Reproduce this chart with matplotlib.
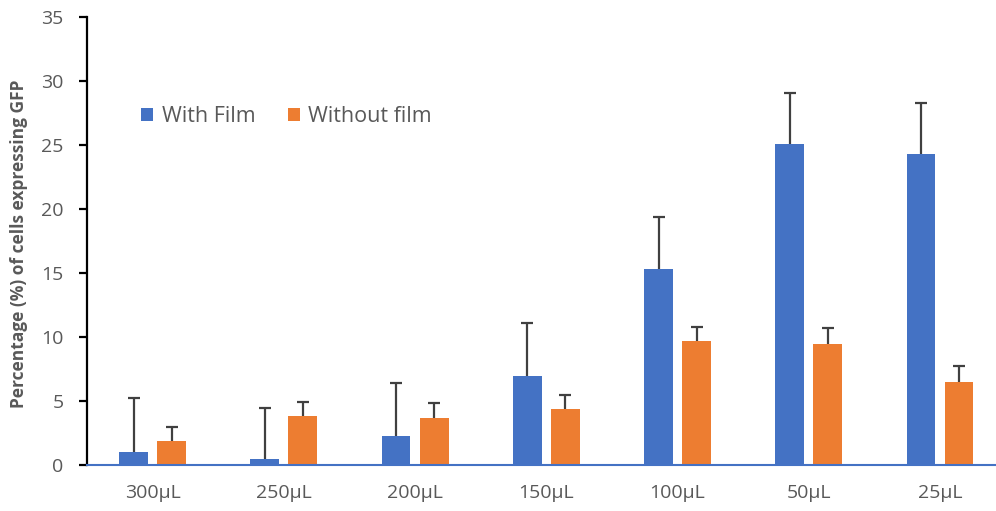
import numpy as np
import matplotlib.pyplot as plt

# volumes tested
categories = ['300µL', '250µL', '200µL', '150µL', '100µL', '50µL', '25µL']

# mean % of GFP-expressing cells
with_film = [1.05, 0.45, 2.25, 6.95, 15.35, 25.1, 24.3]
without_film = [1.85, 3.85, 3.65, 4.4, 9.65, 9.45, 6.5]

# upper error (sd)
with_film_err = [4.15, 4.0, 4.15, 4.15, 4.05, 4.0, 4.0]
without_film_err = [1.1, 1.1, 1.2, 1.1, 1.15, 1.25, 1.25]

blue = '#4472C4'
orange = '#ED7D31'
grey_txt = '#595959'

plt.rcParams.update({
    'font.family': ['Open Sans', 'DejaVu Sans'],
    'figure.dpi': 100,
})

fig = plt.figure(figsize=(9.96, 5.11), facecolor='white')
# right edge of the plot runs past the image (original is cropped)
ax = fig.add_axes([87 / 996, 46 / 511, 918.6 / 996, 448 / 511])

x = np.arange(len(categories))
w = 0.22
off = 0.145

ax.bar(x - off, with_film, width=w, color=blue, label='With Film', zorder=2)
ax.bar(x + off, without_film, width=w, color=orange, label='Without film', zorder=2)

err_kw = dict(fmt='none', ecolor='#404040', elinewidth=1.6, capsize=4.3,
              capthick=1.6, zorder=3)
for xs, vals, errs in [(x - off, with_film, with_film_err),
                       (x + off, without_film, without_film_err)]:
    eb = ax.errorbar(xs, vals, yerr=[np.zeros(len(x)), errs], **err_kw)
    # only the upper cap, as in the original
    eb[1][0].set_visible(False)

ax.set_xlim(-0.5, len(categories) - 0.5)
ax.set_ylim(0, 35)
ax.set_yticks(np.arange(0, 36, 5))
ax.set_xticks(x)
ax.set_xticklabels(categories)

ax.spines['top'].set_visible(False)
ax.spines['right'].set_visible(False)
ax.spines['left'].set_color('black')
ax.spines['left'].set_linewidth(1.6)
ax.spines['bottom'].set_color(blue)
ax.spines['bottom'].set_linewidth(1.5)
ax.spines['bottom'].set_zorder(4)

ax.tick_params(axis='y', direction='out', length=6, width=1.6, color='black',
               labelsize=14, labelcolor=grey_txt, pad=11)
ax.tick_params(axis='x', length=0, labelsize=14, labelcolor=grey_txt, pad=14)

fig.text(19 / 996, 0.523, 'Percentage (%) of cells expressing GFP', rotation=90,
         ha='center', va='center', fontsize=12.5, fontweight='bold', color=grey_txt)

ax.legend(loc='center left', bbox_to_anchor=(122 / 996, 1 - 117 / 511),
          bbox_transform=fig.transFigure, ncol=2, frameon=False, fontsize=15.5,
          labelcolor=grey_txt, handlelength=0.55, handleheight=0.55,
          handletextpad=0.4, columnspacing=1.5)

fig.savefig('out.png', dpi=100, facecolor='white')
